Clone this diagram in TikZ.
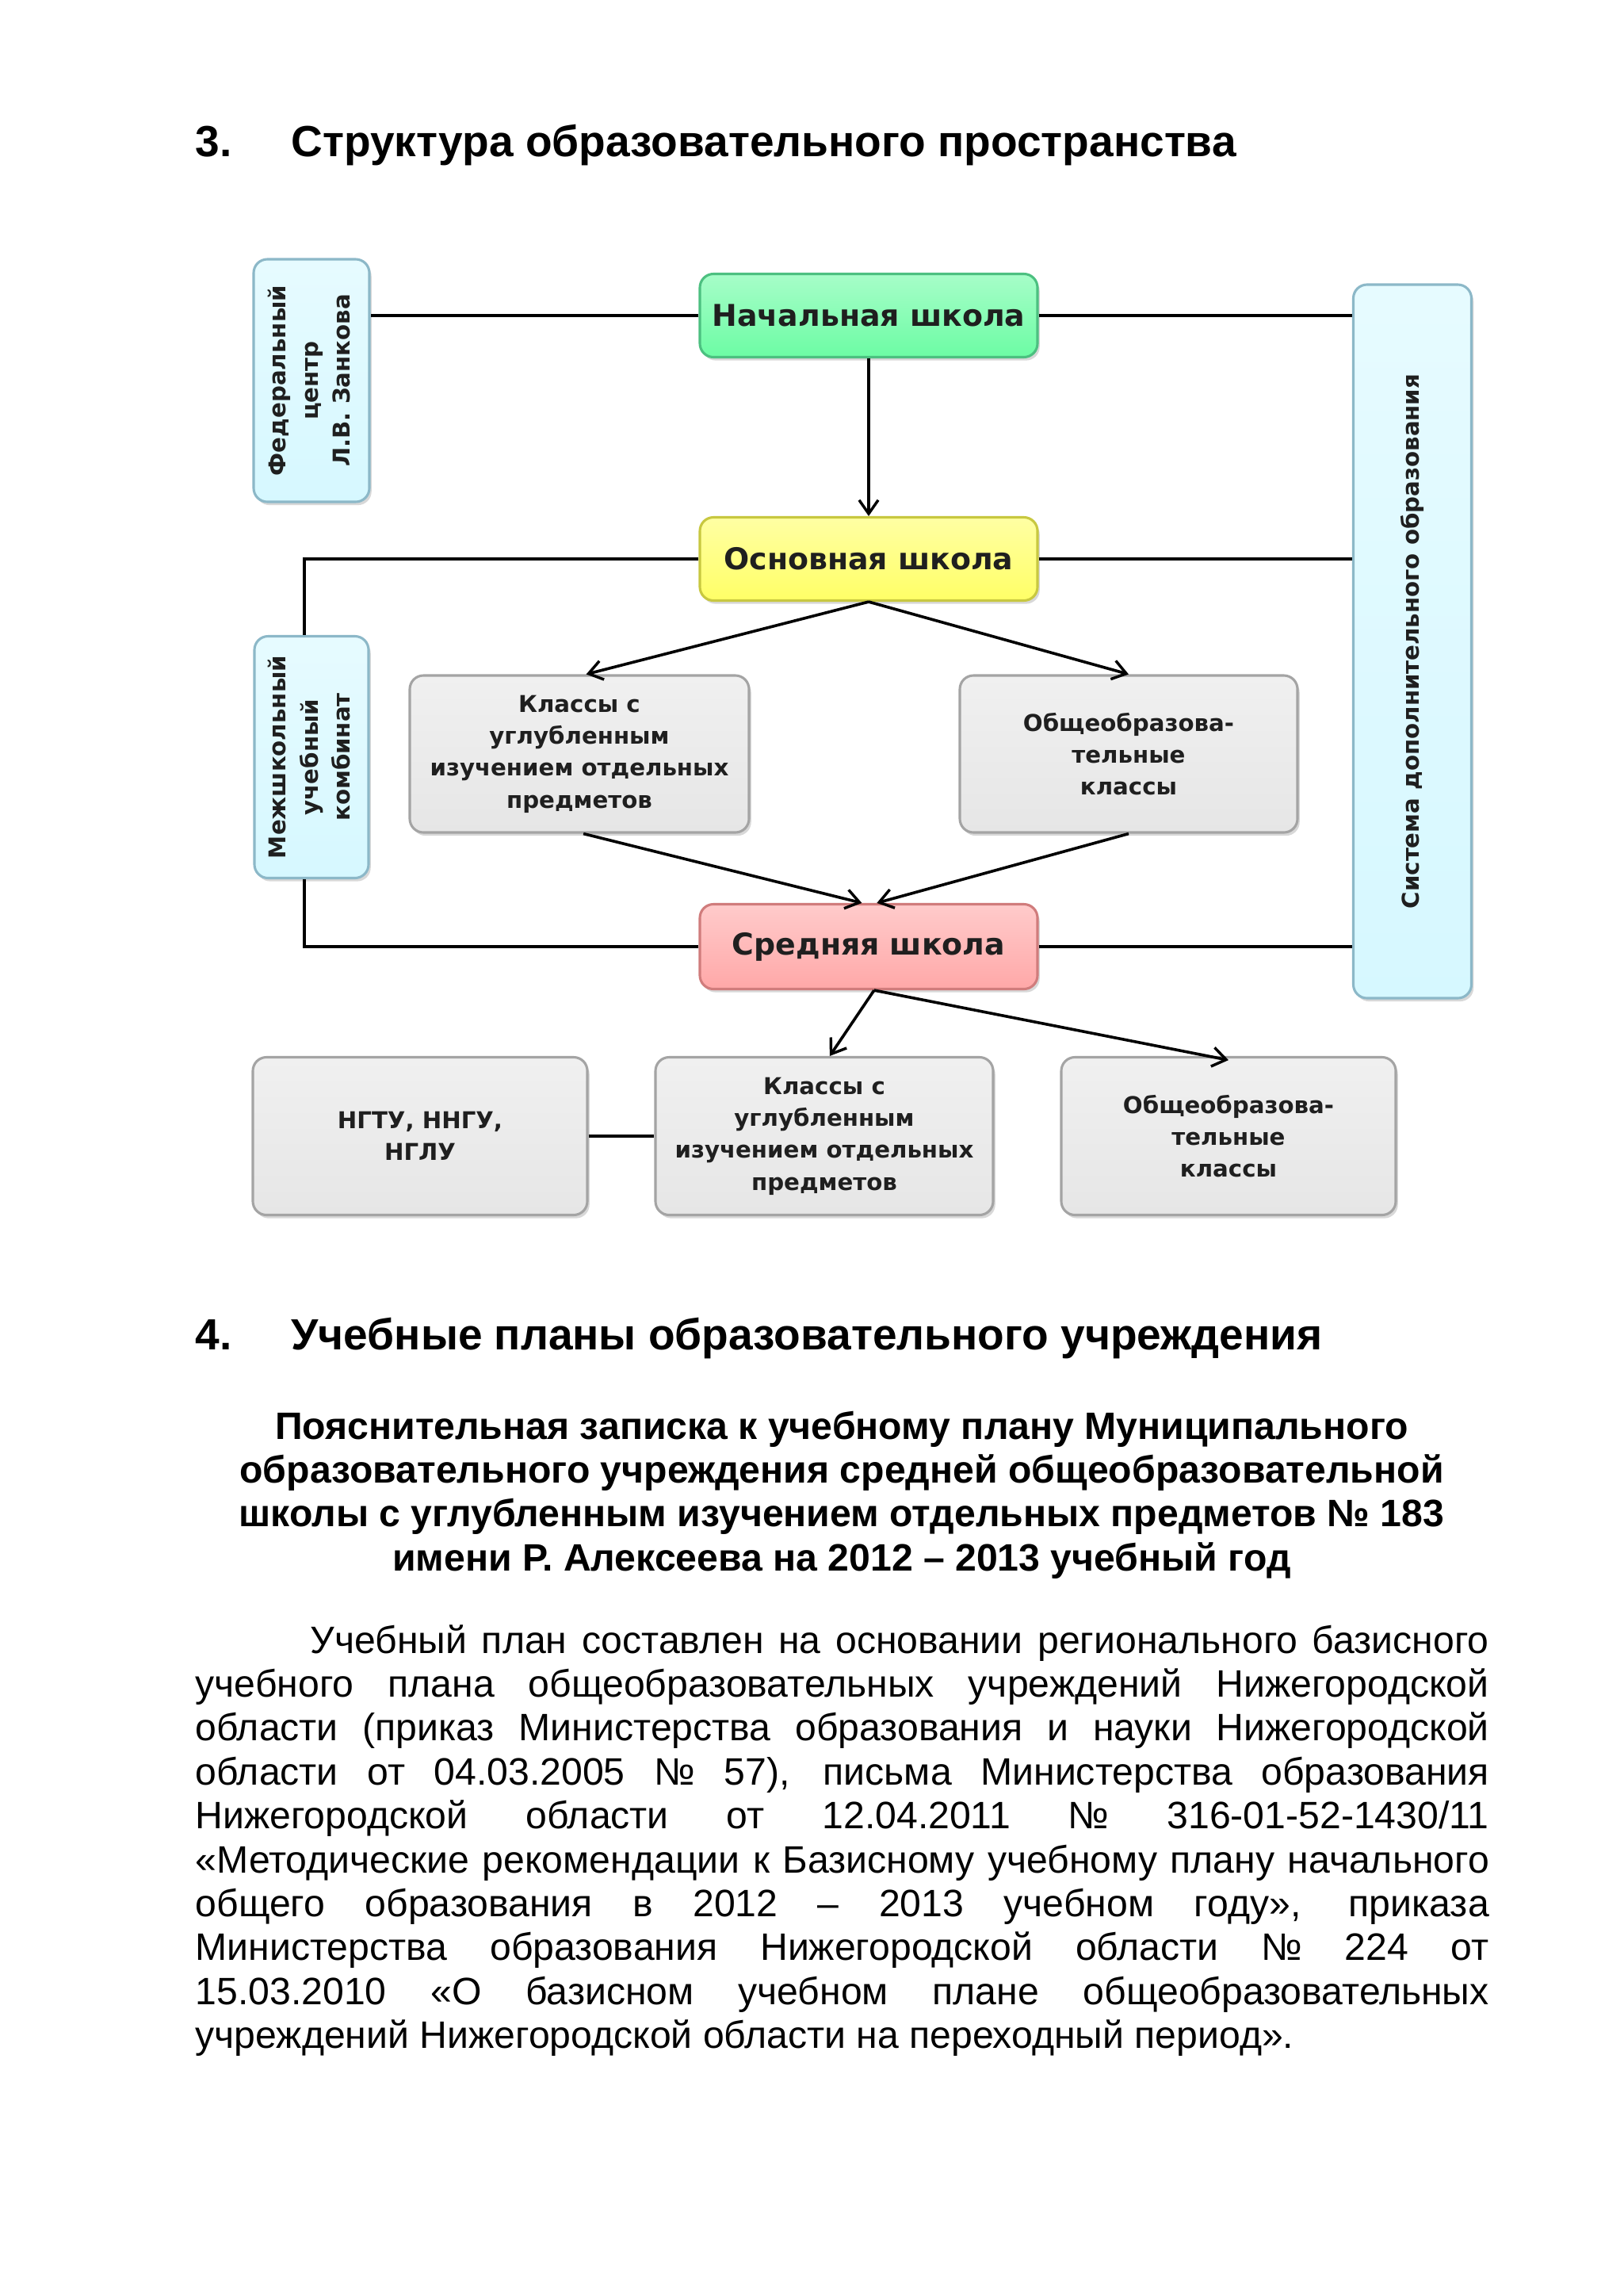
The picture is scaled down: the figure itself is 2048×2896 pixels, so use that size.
\documentclass[tikz,border=0pt]{standalone}
\usepackage{fontspec}
\setmainfont{Liberation Sans}
\newfontfamily\boxfont{DejaVu Sans}
\usetikzlibrary{arrows.meta,shadows}
\definecolor{greenC}{HTML}{6CFCA4}
\definecolor{greenR}{HTML}{4CC080}
\definecolor{yellowC}{HTML}{FFFF66}
\definecolor{yellowR}{HTML}{C8C840}
\definecolor{pinkC}{HTML}{FFA8A8}
\definecolor{pinkR}{HTML}{D07C7C}
\definecolor{grayC}{HTML}{E6E6E6}
\definecolor{grayR}{HTML}{A4A4A4}
\definecolor{cyanC}{HTML}{D6F8FF}
\definecolor{cyanR}{HTML}{8CB8C8}
\newcommand\pxu{0.29066pt}
\tikzset{
  cbox/.style 2 args={rounded corners=5pt, draw=#2, line width=0.9pt,
    top color=#1!60!white, middle color=#1, bottom color=#1,
    drop shadow={shadow xshift=0.8pt, shadow yshift=-1.2pt, opacity=0.3},
    text=black!88, inner sep=0pt, align=center},
  bigf/.style={font=\boxfont\bfseries\fontsize{11}{13}\selectfont},
  smallf/.style={font=\boxfont\bfseries\fontsize{8.5}{11.7}\selectfont},
  conn/.style={line width=1.3pt, draw=black},
  arr/.style={line width=1.05pt, draw=black, -{Straight Barb[length=5pt,width=7pt,line width=1pt]}},
  pagetext/.style={inner sep=0pt, anchor=base west, font=\fontsize{14}{16.1}\selectfont},
  titletext/.style={inner sep=0pt, anchor=base, font=\fontsize{14}{16.1}\selectfont\bfseries},
  headtext/.style={inner sep=0pt, anchor=base west, font=\fontsize{16}{18.4}\selectfont\bfseries}
}
\begin{document}
\begin{tikzpicture}[x=0.29066pt, y=-0.29066pt]
\useasboundingbox (0,0) rectangle (2048,2896);
\fill[white] (0,0) rectangle (2048,2896);

% heading 3
\node[headtext] (h3n) at (246,197) {3.};
\node[headtext] (h3) at (367,197) {Структура образовательного пространства};

% diagram nodes
\node[cbox={greenC}{greenR}, bigf, minimum width=426*\pxu, minimum height=105*\pxu] (nach) at (1096,398) {Начальная школа};
\node[cbox={yellowC}{yellowR}, bigf, minimum width=426*\pxu, minimum height=105*\pxu] (osn) at (1096,705) {Основная школа};
\node[cbox={pinkC}{pinkR}, bigf, minimum width=426*\pxu, minimum height=107*\pxu] (sred) at (1096,1194) {Средняя школа};

\node[cbox={cyanC}{cyanR}, smallf, minimum width=146*\pxu, minimum height=306*\pxu] (fed) at (393,480)
  {\rotatebox{90}{\begin{tabular}{@{}c@{}}Федеральный\\центр\\Л.В. Занкова\end{tabular}}};
\node[cbox={cyanC}{cyanR}, smallf, minimum width=144*\pxu, minimum height=305*\pxu] (mezh) at (393,955)
  {\rotatebox{90}{\begin{tabular}{@{}c@{}}Межшкольный\\учебный\\комбинат\end{tabular}}};
\node[cbox={cyanC}{cyanR}, smallf, minimum width=149*\pxu, minimum height=900*\pxu] (sys) at (1782,809)
  {\rotatebox{90}{Система дополнительного образования}};

\node[cbox={grayC}{grayR}, smallf, minimum width=428*\pxu, minimum height=198*\pxu] (kl1) at (731,951)
  {Классы с\\углубленным\\изучением отдельных\\предметов};
\node[cbox={grayC}{grayR}, smallf, minimum width=426*\pxu, minimum height=198*\pxu] (ob1) at (1424,951)
  {Общеобразова-\\тельные\\классы};

\node[cbox={grayC}{grayR}, smallf, minimum width=422*\pxu, minimum height=199*\pxu] (ngtu) at (530,1433)
  {НГТУ, ННГУ,\\НГЛУ};
\node[cbox={grayC}{grayR}, smallf, minimum width=426*\pxu, minimum height=199*\pxu] (kl2) at (1040,1433)
  {Классы с\\углубленным\\изучением отдельных\\предметов};
\node[cbox={grayC}{grayR}, smallf, minimum width=422*\pxu, minimum height=199*\pxu] (ob2) at (1550,1433)
  {Общеобразова-\\тельные\\классы};

% connectors
\draw[conn] (nach.west) -- (nach.west -| fed.east);
\draw[conn] (nach.east) -- (nach.east -| sys.west);
\draw[conn] (osn.east) -- (osn.east -| sys.west);
\draw[conn] (sred.east) -- (sred.east -| sys.west);
\draw[conn] (osn.west) -| ([xshift=-2.6pt]mezh.north);
\draw[conn] (sred.west) -| ([xshift=-2.6pt]mezh.south);
\draw[conn] (ngtu.east) -- (kl2.west);

\draw[arr] (nach.south) -- (osn.north);
\draw[arr] (osn.south) -- ([xshift=2.5pt]kl1.north);
\draw[arr] (osn.south) -- (ob1.north);
\draw[arr] ([xshift=1.5pt]kl1.south) -- ([xshift=-2.5pt]sred.north);
\draw[arr] (ob1.south) -- ([xshift=3pt]sred.north);
\draw[arr] ([xshift=2pt]sred.south) -- ([xshift=2pt]kl2.north);
\draw[arr] ([xshift=2pt]sred.south) -- ([yshift=-1.5pt]ob2.north);

% heading 4
\node[headtext] (h4n) at (246,1702) {4.};
\node[headtext] (h4) at (367,1702) {Учебные планы образовательного учреждения};

% title
\node[titletext] (t1) at (1062,1815) {Пояснительная записка к учебному плану Муниципального};
\node[titletext] (t2) at (1062,1870.4) {образовательного учреждения средней общеобразовательной};
\node[titletext] (t3) at (1062,1925.8) {школы с углубленным изучением отдельных предметов № 183};
\node[titletext] (t4) at (1062,1981.2) {имени Р. Алексеева на 2012 – 2013 учебный год};

% body
\node[pagetext] (b1) at (391,2085) {\makebox[432.2pt][s]{Учебный план составлен на основании регионального базисного}};
\node[pagetext] (b2) at (246,2140.4) {\makebox[474.4pt][s]{учебного плана общеобразовательных учреждений Нижегородской}};
\node[pagetext] (b3) at (246,2195.8) {\makebox[474.4pt][s]{области (приказ Министерства образования и науки Нижегородской}};
\node[pagetext] (b4) at (246,2251.2) {\makebox[474.4pt][s]{области от 04.03.2005 № 57), письма Министерства образования}};
\node[pagetext] (b5) at (246,2306.6) {\makebox[474.4pt][s]{Нижегородской области от 12.04.2011 № 316-01-52-1430/11}};
\node[pagetext] (b6) at (246,2362) {\makebox[474.4pt][s]{«Методические рекомендации к Базисному учебному плану начального}};
\node[pagetext] (b7) at (246,2417.4) {\makebox[474.4pt][s]{общего образования в 2012 – 2013 учебном году», приказа}};
\node[pagetext] (b8) at (246,2472.8) {\makebox[474.4pt][s]{Министерства образования Нижегородской области № 224 от}};
\node[pagetext] (b9) at (246,2528.2) {\makebox[474.4pt][s]{15.03.2010 «О базисном учебном плане общеобразовательных}};
\node[pagetext] (b10) at (246,2583.6) {учреждений Нижегородской области на переходный период».};
\end{tikzpicture}
\end{document}
